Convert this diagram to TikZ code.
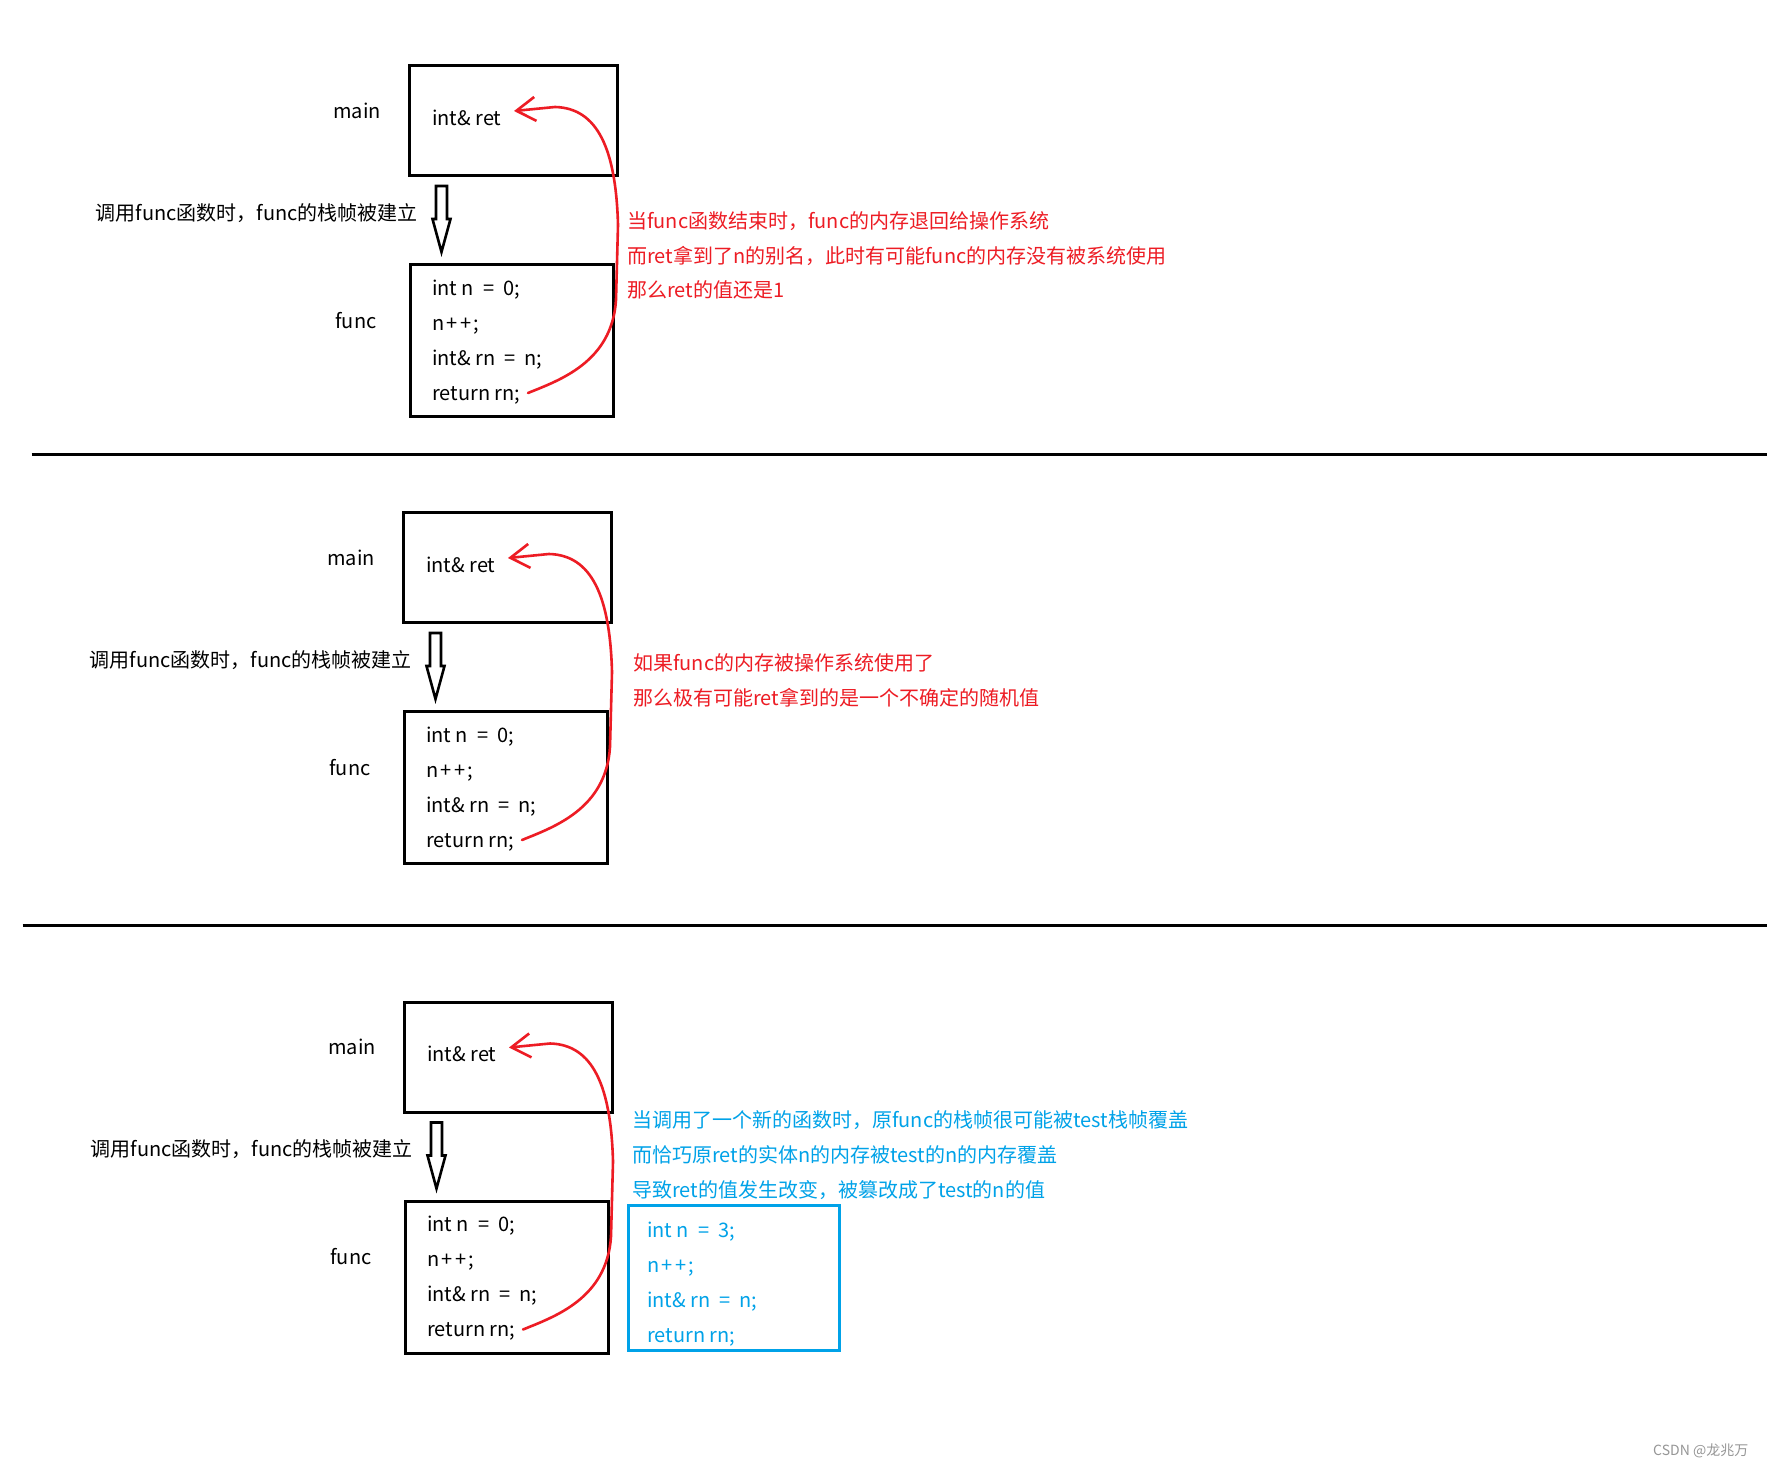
\documentclass[tikz,border=0pt]{standalone}
\usepackage{fontspec}
\setmainfont{Noto Sans CJK SC}
\usetikzlibrary{arrows.meta}
\definecolor{pred}{RGB}{237,28,36}
\definecolor{pblue}{RGB}{0,162,232}
\definecolor{wmgray}{RGB}{150,150,150}
\newcommand\eqsp{\hspace{9pt}}
\newcommand\plsp{\hspace{2.3pt}}
\tikzset{
  frame/.style={draw=black, line width=3pt, inner sep=0pt},
  txt/.style={anchor=base west, inner sep=0pt, yshift=-2.2pt, font=\fontsize{20}{24}\selectfont},
  lbl/.style={anchor=base, inner sep=0pt, yshift=-2.2pt, font=\fontsize{20}{24}\selectfont},
  calltxt/.style={anchor=base east, inner sep=0pt, yshift=-2.2pt, font=\fontsize{20}{24}\selectfont},
  redtxt/.style={txt, text=pred},
  bluetxt/.style={txt, text=pblue},
  retcurve/.style={draw=pred, line width=2.6pt, line cap=round, line join=round,
    -{Straight Barb[length=19pt,width=24pt,line width=2.6pt]}},
  hollowarrow/.style={draw=black, line width=2.6pt, line join=miter},
  sepline/.style={draw=black, line width=3pt}
}
\newcommand\stackpanel[3]{%
\begin{scope}[shift={(#1,#2)}]
  \node[frame, minimum width=208pt, minimum height=110pt] (mbox#3) at (513.5,120.5) {};
  \node[frame, minimum width=203pt, minimum height=152pt] (fbox#3) at (512,340.5) {};
  \node[lbl] (mlbl#3) at (357,116) {main};
  \node[lbl] (flbl#3) at (356,326) {func};
  \node[txt] (ret#3) at (432,123) {int\& ret};
  \node[calltxt] (call#3) at (418,218) {调用func函数时，func的栈帧被建立};
  \node[txt] (ca#3) at (432,293) {int n\eqsp{}=\eqsp{}0;};
  \node[txt] (cb#3) at (432,328) {n\plsp{}+\plsp{}+\plsp{};};
  \node[txt] (cc#3) at (432,363) {int\& rn\eqsp{}=\eqsp{}n;};
  \node[txt] (cd#3) at (432,398) {return rn;};
  \draw[hollowarrow] (436,186) -- (447,186) -- (447,219) -- (450.5,219) -- (441.5,252)
     -- (432.5,219) -- (436,219) -- cycle;
  \coordinate (cs#3) at (528,393);
  \coordinate (ct#3) at (514,111);
  \draw[retcurve] (cs#3) .. controls (560,380) and (612,362) .. (616,300)
     -- (618,225) .. controls (616,150) and (598,108) .. (555,107) -- (ct#3);
\end{scope}}
\begin{document}
\begin{tikzpicture}[x=1pt,y=-1pt]
  \fill[white] (0,0) rectangle (1767,1466);
  \useasboundingbox (0,0) rectangle (1767,1466);
  % panels
  \stackpanel{0}{0}{A}
  \stackpanel{-6}{447}{B}
  \stackpanel{-5}{936.5}{C}
  % separators
  \coordinate (sepAl) at (31.5,454);
  \coordinate (sepAr) at (1767,454);
  \draw[sepline] (sepAl) -- (sepAr);
  \coordinate (sepBl) at (22.5,925);
  \coordinate (sepBr) at (1767,925);
  \draw[sepline] (sepBl) -- (sepBr);
  % panel 1 notes
  \node[redtxt] (na1) at (627,226) {当func函数结束时，func的内存退回给操作系统};
  \node[redtxt] (na2) at (627,261) {而ret拿到了n的别名，此时有可能func的内存没有被系统使用};
  \node[redtxt] (na3) at (627,295.5) {那么ret的值还是1};
  % panel 2 notes
  \node[redtxt] (nb1) at (633,668.5) {如果func的内存被操作系统使用了};
  \node[redtxt] (nb2) at (633,703.5) {那么极有可能ret拿到的是一个不确定的随机值};
  % panel 3 notes
  \node[bluetxt] (nc1) at (632,1125) {当调用了一个新的函数时，原func的栈帧很可能被test栈帧覆盖};
  \node[bluetxt] (nc2) at (632,1160) {而恰巧原ret的实体n的内存被test的n的内存覆盖};
  \node[bluetxt] (nc3) at (632,1195) {导致ret的值发生改变，被篡改成了test的n的值};
  \node[frame, draw=pblue, minimum width=211pt, minimum height=145pt] (tbox) at (733.5,1277.5) {};
  \node[bluetxt] (ta) at (647,1235) {int n\eqsp{}=\eqsp{}3;};
  \node[bluetxt] (tb) at (647,1270) {n\plsp{}+\plsp{}+\plsp{};};
  \node[bluetxt] (tc) at (647,1305) {int\& rn\eqsp{}=\eqsp{}n;};
  \node[bluetxt] (td) at (647,1340) {return rn;};
  % watermark
  \node[anchor=base west, inner sep=0pt, text=wmgray, font=\fontsize{14}{16}\selectfont] (wm) at (1653,1455) {CSDN @龙兆万};
\end{tikzpicture}
\end{document}
